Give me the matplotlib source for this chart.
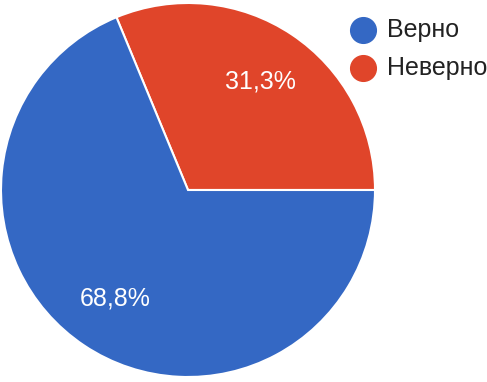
import matplotlib.pyplot as plt
from decimal import Decimal, ROUND_HALF_UP

labels = ["Неверно", "Верно"]
values = [31.25, 68.75]
colors = ["#e0452a", "#3468c4"]
legend_order = [1, 0]

plt.rcParams['font.family'] = ['Liberation Sans', 'DejaVu Sans']

fig = plt.figure(figsize=(4.87, 3.82), dpi=100)
ax = fig.add_axes([1 / 487, 5 / 382, 374 / 487, 374 / 382])

def fmt(p):
    s = Decimal(str(round(p, 6))).quantize(Decimal("0.1"), rounding=ROUND_HALF_UP)
    return f"{s}%".replace(".", ",")

wedges, texts, autotexts = ax.pie(
    values, colors=colors, startangle=0, counterclock=True,
    autopct=fmt, pctdistance=0.7, radius=1,
    wedgeprops=dict(edgecolor="white", linewidth=1.5),
    textprops=dict(color="white", fontsize=18))
ax.set_xlim(-1, 1)
ax.set_ylim(-1, 1)
ax.set_aspect("equal")

# legend drawn by hand in pixel coords
lax = fig.add_axes([0, 0, 1, 1])
lax.set_xlim(0, 487)
lax.set_ylim(382, 0)
lax.axis("off")
for row, i in enumerate(legend_order):
    y = 29.5 + row * 38
    lax.plot(363, y, marker="o", markersize=18.5, color=colors[i], linestyle="")
    lax.text(387, y, labels[i], fontsize=18, color="#222222", va="center", ha="left")

fig.savefig("out.png", dpi=100)
